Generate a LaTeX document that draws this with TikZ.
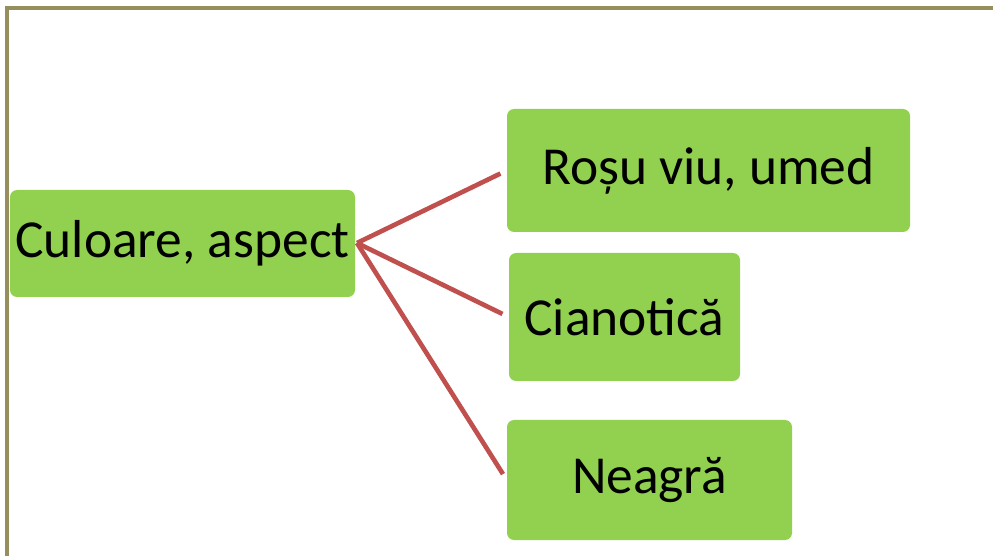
\documentclass[tikz,border=0pt]{standalone}
\usepackage{fontspec}
\setmainfont{Carlito}
\usepackage{tikz}
\usetikzlibrary{positioning, calc}

\definecolor{leafgreen}{HTML}{92D050}
\definecolor{linkred}{HTML}{C0504D}
\definecolor{frameolive}{HTML}{958F5E}

\begin{document}
\begin{tikzpicture}[x=0.025cm, y=-0.025cm,
                item/.style={fill=leafgreen, rounded corners=5pt, align=center,
                             font=\fontsize{38}{42}\selectfont, inner sep=0pt},
                link/.style={draw=linkred, line width=3.3pt, shorten >=0.175cm}]

                % page size and the frame lines
                \useasboundingbox (0,0) rectangle (993,556);
                \draw[frameolive, line width=2.2pt] (7,556) -- (7,8) -- (993,8);

                % main box on the left
                \node[item, minimum width=345*0.025cm, minimum height=107*0.025cm] (culoare) at (182.5,243.5)
                    {Culoare, aspect};
                \coordinate (hub) at (357,243);

                % the three outcomes on the right
                \node[item, minimum width=403*0.025cm, minimum height=123*0.025cm] (rosu) at (708.5,170.5)
                    {Roșu viu, umed};
                \node[item, minimum width=231*0.025cm, minimum height=128*0.025cm] (cianotica) at (624.5,317)
                    {Cianotică};
                \node[item, minimum width=285*0.025cm, minimum height=120*0.025cm] (neagra) at (649.5,480)
                    {Neagră};

                % links
                \draw[link] (hub) -- (rosu.west);
                \draw[link] (hub) -- (cianotica.west);
                \draw[link] (hub) -- (neagra.west);
            \end{tikzpicture}
\end{document}
